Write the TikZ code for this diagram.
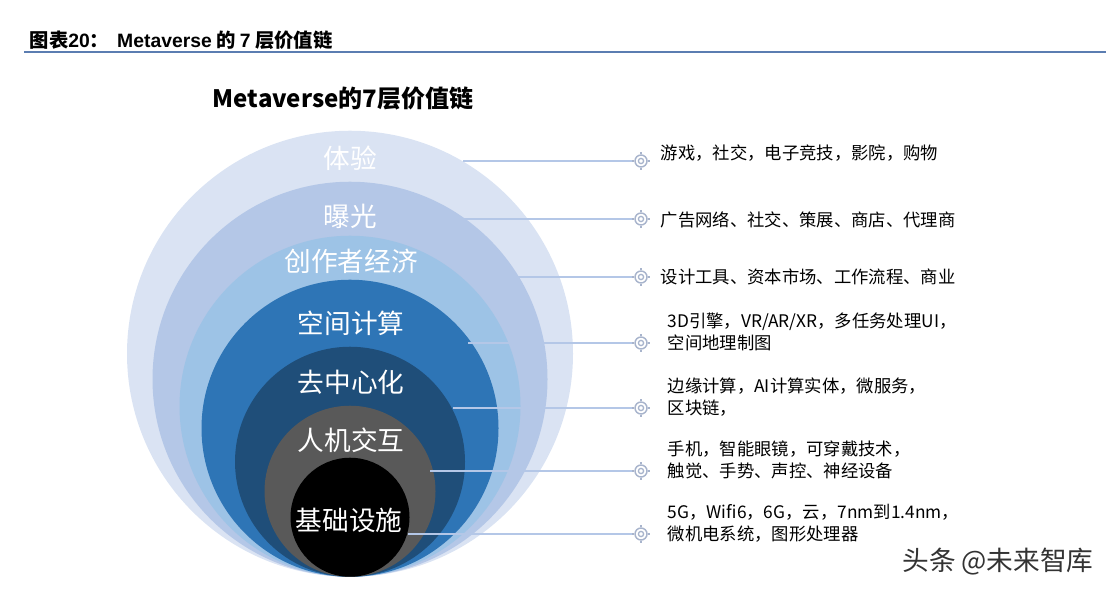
\documentclass[tikz,border=0pt]{standalone}
\usepackage{fontspec}
\newfontfamily\cjk{Noto Sans CJK SC}
\newfontfamily\latin{Liberation Sans}
\definecolor{MVexp}{RGB}{218, 227, 243}
\definecolor{MVexposure}{RGB}{180, 199, 231}
\definecolor{MVcreator}{RGB}{157, 195, 230}
\definecolor{MVspatial}{RGB}{46, 117, 182}
\definecolor{MVdecentral}{RGB}{31, 78, 121}
\definecolor{MVhci}{RGB}{89, 89, 89}
\definecolor{MVline}{RGB}{180, 199, 231}
\definecolor{MVicon}{RGB}{168, 180, 204}
\definecolor{MVrule}{RGB}{91, 125, 177}

\begin{document}
\begin{tikzpicture}[x=0.75pt, y=-0.75pt,
	layer/.style={circle, inner sep=0pt, anchor=south},
	layername/.style={text=white, font=\cjk\fontsize{20}{24}\selectfont},
	leader/.style={line width=0.8pt, MVline},
	ring/.style={circle, draw=MVicon, line width=1.1pt, minimum size=9pt, inner sep=0pt},
	desc/.style={anchor=west, align=left, font=\cjk\fontsize{13}{16.5}\selectfont}]
	\useasboundingbox (0,0) rectangle (1119,591);
	\node[anchor=west, font=\cjk\bfseries\fontsize{14.5}{16}\selectfont] (title) at (25,40) {图表{\latin 20}：\hspace{6pt}{\latin Metaverse} 的 {\latin 7} 层价值链};
	\draw[line width=1.6pt, MVrule] (24,52) -- (1106,52);
	\node[font=\cjk\bfseries\fontsize{18}{22}\selectfont] (heading) at (343,98) {Metaverse的7层价值链};

	\node[layer, fill=MVexp, minimum size=446*0.75pt] (c1) at (350,577) {};
	\node[layer, fill=MVexposure, minimum size=395*0.75pt] (c2) at (350,577) {};
	\node[layer, fill=MVcreator, minimum size=341*0.75pt] (c3) at (350,577) {};
	\node[layer, fill=MVspatial, minimum size=297*0.75pt] (c4) at (350,577) {};
	\node[layer, fill=MVdecentral, minimum size=230*0.75pt] (c5) at (350,577) {};
	\node[layer, fill=MVhci, minimum size=171*0.75pt] (c6) at (350,577) {};
	\node[layer, fill=black, minimum size=119*0.75pt] (c7) at (350,577) {};

	\foreach \i/\sx/\y in {1/463/161, 2/463/219, 3/518/277, 4/468/343, 5/453/408, 6/430/471, 7/408/534} {
		\coordinate (s\i) at (\sx,\y);
		\node[ring] (t\i) at (641,\y) {};
		\draw[leader] (s\i) -- (t\i.west);
		\draw[MVicon, line width=1pt] (t\i) circle (2.6);
		\draw[MVicon, line width=1.1pt] (t\i.north) -- ++(0,-2.5) (t\i.south) -- ++(0,2.5)
			(t\i.east) -- ++(2.5,0) (t\i.west) -- ++(-2.5,0);
	}

	\node[layername] (n1) at (350,158) {体验};
	\node[layername] (n2) at (350,216) {曝光};
	\node[layername] (n3) at (351,261) {创作者经济};
	\node[layername] (n4) at (351,323) {空间计算};
	\node[layername] (n5) at (351,382) {去中心化};
	\node[layername] (n6) at (351,440) {人机交互};
	\node[layername] (n7) at (349,520) {基础设施};

	\node[desc] (d1) at (656,153) {游戏，社交，电子竞技，影院，购物};
	\node[desc] (d2) at (656,220) {广告网络、社交、策展、商店、代理商};
	\node[desc] (d3) at (656,277) {设计工具、资本市场、工作流程、商业};
	\node[desc] (d4) at (663,332) {3D引擎，VR/AR/XR，多任务处理UI，\\空间地理制图};
	\node[desc] (d5) at (663,397) {边缘计算，AI计算实体，微服务，\\区块链，};
	\node[desc] (d6) at (663,460) {手机，智能眼镜，可穿戴技术，\\触觉、手势、声控、神经设备};
	\node[desc] (d7) at (663,523) {5G，Wifi6，6G，云，7nm到1.4nm，\\微机电系统，图形处理器};

	\node[font=\cjk\fontsize{20}{24}\selectfont, text=black!80] (mark) at (998,562) {头条 @未来智库};
\end{tikzpicture}
\end{document}
